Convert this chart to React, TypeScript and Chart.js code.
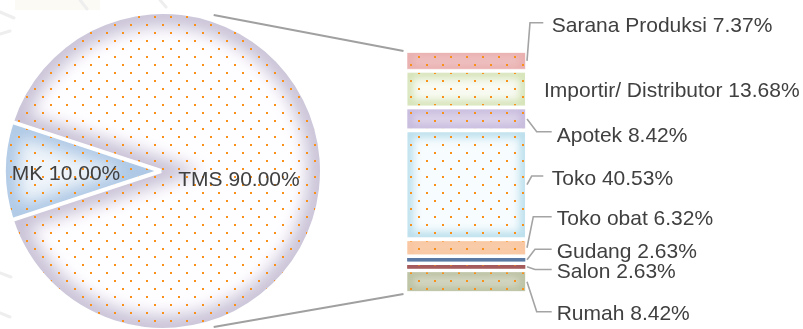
import React, { useEffect, useRef } from "react";
import { Chart, registerables } from "chart.js";
Chart.register(...registerables);

// ---------- data ----------
const pieLabels = ["TMS", "MK"];
const pieValues = [90.0, 10.0];

const barLabels = [
  "Sarana Produksi",
  "Importir/ Distributor",
  "Apotek",
  "Toko",
  "Toko obat",
  "Gudang",
  "Salon",
  "Rumah",
];
const barValues = [7.37, 13.68, 8.42, 40.53, 6.32, 2.63, 2.63, 8.42];

// ---------- styles ----------
const pieFill = ["#fefdff", "#f0f5fa"];
const pieGlow = ["#aaa2c0", "#9dbde0"];
const pieGlowAlpha = [0.65, 0.8];
const barFill = ["#f3d0d0", "#f9fbf3", "#e4ddee", "#f7fcfe", "#fde0c9", "#5a7aa5", "#a65c5c", "#dcdfcd"];
const barGlow = ["#e6a6a6", "#cadca6", "#bfb1d8", "#a8d6e6", "#f7be95", "#5a7aa5", "#a65c5c", "#b2b996"];
const TEXT = "#404040";
const LINE = "#a4a4a4";
const FONT = '21px "Liberation Sans", Arial, sans-serif';

// ---------- layout (label placement) ----------
const pieLabelR = [0.484, 0.618];
const pieLabelDy = [7, 1.5];
const labelX = [551.7, 544, 556.7, 551.7, 556.7, 556.7, 556.7, 556.7];
const labelBaseline = [31.5, 96.5, 141.5, 185, 225, 258.3, 278, 320];
const leaderElbowX = [530, 0, 536.7, 531.7, 533.3, 535, 535, 536.7];
const leaderY = [22.7, 0, 131.7, 176, 216.7, 249.3, 269.5, 311.7];
const leaderEndX = [543.3, 0, 551.7, 543.3, 551.7, 551.7, 551.7, 551.7];
const hasLeader = [true, false, true, true, true, true, true, true];

const W = 803;
const H = 329;

function makeDots(): CanvasPattern | string {
  const c = document.createElement("canvas");
  c.width = 16;
  c.height = 16;
  const g = c.getContext("2d");
  if (!g) return "rgba(0,0,0,0)";
  g.fillStyle = "#f8901a";
  g.fillRect(10, 0, 2, 2);
  g.fillRect(2, 8, 2, 2);
  return g.createPattern(c, "repeat") || "rgba(0,0,0,0)";
}

export default function App() {
  const pieRef = useRef<HTMLCanvasElement>(null);
  const barRef = useRef<HTMLCanvasElement>(null);

  useEffect(() => {
    if (!pieRef.current || !barRef.current) return;
    const dots = makeDots();

    const pieDecor = {
      id: "pieDecor",
      beforeDraw(chart: any) {
        const ctx = chart.ctx;
        ctx.save();
        ctx.fillStyle = "#fcfaf5";
        ctx.fillRect(15, 0, 85, 10);
        ctx.strokeStyle = "#eeeeee";
        ctx.lineWidth = 3;
        ctx.lineCap = "round";
        const segs = [
          [0, 12, 14, 18],
          [0, 34, 10, 31],
          [80, 0, 87, 9],
          [160, 0, 166, 7],
          [0, 273, 11, 277],
          [0, 313, 10, 317],
        ];
        segs.forEach(([a, b, c, d]) => {
          ctx.beginPath();
          ctx.moveTo(a, b);
          ctx.lineTo(c, d);
          ctx.stroke();
        });
        ctx.restore();
      },
      afterDatasetsDraw(chart: any) {
        const ctx = chart.ctx;
        const meta = chart.getDatasetMeta(0);
        meta.data.forEach((arc: any, i: number) => {
          const p = arc.getProps(["x", "y", "startAngle", "endAngle", "outerRadius"], true);
          const path = new Path2D();
          path.moveTo(p.x, p.y);
          path.arc(p.x, p.y, p.outerRadius, p.startAngle, p.endAngle);
          path.closePath();
          ctx.save();
          ctx.clip(path);
          ctx.filter = "blur(8px)";
          ctx.globalAlpha = pieGlowAlpha[i];
          ctx.strokeStyle = pieGlow[i];
          ctx.lineWidth = 24;
          ctx.stroke(path);
          ctx.filter = "none";
          ctx.globalAlpha = 1;
          ctx.fillStyle = dots;
          ctx.fill(path);
          ctx.restore();
        });
        // white separators of the small slice
        const mk: any = meta.data[1];
        const p = mk.getProps(["x", "y", "startAngle", "endAngle", "outerRadius"], true);
        ctx.save();
        ctx.strokeStyle = "#ffffff";
        ctx.lineWidth = 4;
        [p.startAngle, p.endAngle].forEach((a: number) => {
          ctx.beginPath();
          ctx.moveTo(p.x + 2 * Math.cos(a), p.y);
          ctx.lineTo(p.x + (p.outerRadius + 2) * Math.cos(a), p.y + (p.outerRadius + 2) * Math.sin(a));
          ctx.stroke();
        });
        ctx.restore();
        // labels
        ctx.save();
        ctx.font = FONT;
        ctx.fillStyle = TEXT;
        ctx.textAlign = "center";
        ctx.textBaseline = "alphabetic";
        meta.data.forEach((arc: any, i: number) => {
          const q = arc.getProps(["x", "y", "startAngle", "endAngle", "outerRadius"], true);
          const mid = (q.startAngle + q.endAngle) / 2;
          const r = q.outerRadius * pieLabelR[i];
          const cx = q.x + r * Math.cos(mid);
          const cy = q.y + r * Math.sin(mid) + pieLabelDy[i];
          ctx.fillText(`${pieLabels[i]} ${pieValues[i].toFixed(2)}%`, cx, cy + 7.5);
        });
        ctx.restore();
      },
    };

    const pie = new Chart(pieRef.current, {
      type: "pie",
      data: {
        labels: pieLabels,
        datasets: [
          {
            data: pieValues,
            backgroundColor: pieFill,
            borderWidth: 0,
          },
        ],
      },
      options: {
        responsive: false,
        animation: false,
        events: [],
        rotation: 288,
        layout: { padding: { left: 6, top: 14, right: W - 320, bottom: 1 } },
        plugins: { legend: { display: false }, tooltip: { enabled: false } },
      },
      plugins: [pieDecor],
    });

    const barDecor = {
      id: "barDecor",
      afterDatasetsDraw(chart: any) {
        const ctx = chart.ctx;
        barValues.forEach((_, i) => {
          const el: any = chart.getDatasetMeta(i).data[0];
          const p = el.getProps(["x", "y", "base", "width"], true);
          const left = p.x - p.width / 2 + 2;
          const top = Math.min(p.y, p.base) + 2;
          const w = p.width - 4;
          const h = Math.abs(p.base - p.y) - 4;
          const path = new Path2D();
          path.rect(left, top, w, h);
          ctx.save();
          ctx.clip(path);
          ctx.filter = "blur(4px)";
          ctx.globalAlpha = 0.85;
          ctx.strokeStyle = barGlow[i];
          ctx.lineWidth = 10;
          ctx.stroke(path);
          ctx.filter = "none";
          ctx.globalAlpha = 1;
          ctx.fillStyle = dots;
          ctx.fill(path);
          ctx.restore();
        });
      },
      afterDraw(chart: any) {
        const ctx = chart.ctx;
        // connector lines from the pie to the stacked column
        const pa: any = pie.getDatasetMeta(0).data[0];
        const pp = pa.getProps(["x", "y", "outerRadius"], true);
        const first: any = chart.getDatasetMeta(0).data[0];
        const last: any = chart.getDatasetMeta(barValues.length - 1).data[0];
        const f = first.getProps(["x", "y", "base", "width"], true);
        const l = last.getProps(["x", "y", "base", "width"], true);
        const colLeft = f.x - f.width / 2;
        const colRight = f.x + f.width / 2;
        const colTop = Math.min(f.y, f.base);
        const colBottom = Math.max(l.y, l.base);
        const ang = (72 * Math.PI) / 180;
        const rr = pp.outerRadius + 7;
        ctx.save();
        ctx.strokeStyle = "#a0a0a0";
        ctx.lineWidth = 2;
        ctx.beginPath();
        ctx.moveTo(pp.x + rr * Math.cos(-ang), pp.y + rr * Math.sin(-ang));
        ctx.lineTo(colLeft - 2, colTop);
        ctx.moveTo(pp.x + rr * Math.cos(ang), pp.y + rr * Math.sin(ang));
        ctx.lineTo(colLeft - 2, colBottom + 1);
        ctx.stroke();

        // leader lines and labels
        ctx.strokeStyle = LINE;
        ctx.lineWidth = 1.6;
        ctx.font = FONT;
        ctx.fillStyle = TEXT;
        ctx.textAlign = "left";
        ctx.textBaseline = "alphabetic";
        barValues.forEach((v, i) => {
          const el: any = chart.getDatasetMeta(i).data[0];
          const p = el.getProps(["x", "y", "base"], true);
          const cy = (p.y + p.base) / 2;
          if (hasLeader[i]) {
            ctx.beginPath();
            ctx.moveTo(colRight, cy);
            ctx.lineTo(leaderElbowX[i], leaderY[i]);
            ctx.lineTo(leaderEndX[i], leaderY[i]);
            ctx.stroke();
          }
          ctx.fillText(`${barLabels[i]} ${v.toFixed(2)}%`, labelX[i], labelBaseline[i]);
        });
        ctx.restore();
      },
    };

    const bar = new Chart(barRef.current, {
      type: "bar",
      data: {
        labels: [""],
        datasets: barLabels.map((lab, i) => ({
          label: lab,
          data: [barValues[i]],
          backgroundColor: barFill[i],
          borderColor: "#ffffff",
          borderWidth: 2,
          borderSkipped: false,
          barPercentage: 1,
          categoryPercentage: 1,
        })),
      },
      options: {
        responsive: false,
        animation: false,
        events: [],
        layout: { padding: { left: 405.5, right: W - 527, top: 51, bottom: H - 293 } },
        scales: {
          x: { display: false, stacked: true },
          y: { display: false, stacked: true, min: 0, max: 90, reverse: true },
        },
        plugins: { legend: { display: false }, tooltip: { enabled: false } },
      },
      plugins: [barDecor],
    });

    return () => {
      bar.destroy();
      pie.destroy();
    };
  }, []);

  return (
    <div style={{ position: "fixed", left: 0, top: 0, width: W, height: H, background: "#ffffff" }}>
      <canvas ref={pieRef} width={W} height={H} style={{ position: "absolute", left: 0, top: 0 }} />
      <canvas ref={barRef} width={W} height={H} style={{ position: "absolute", left: 0, top: 0 }} />
    </div>
  );
}
